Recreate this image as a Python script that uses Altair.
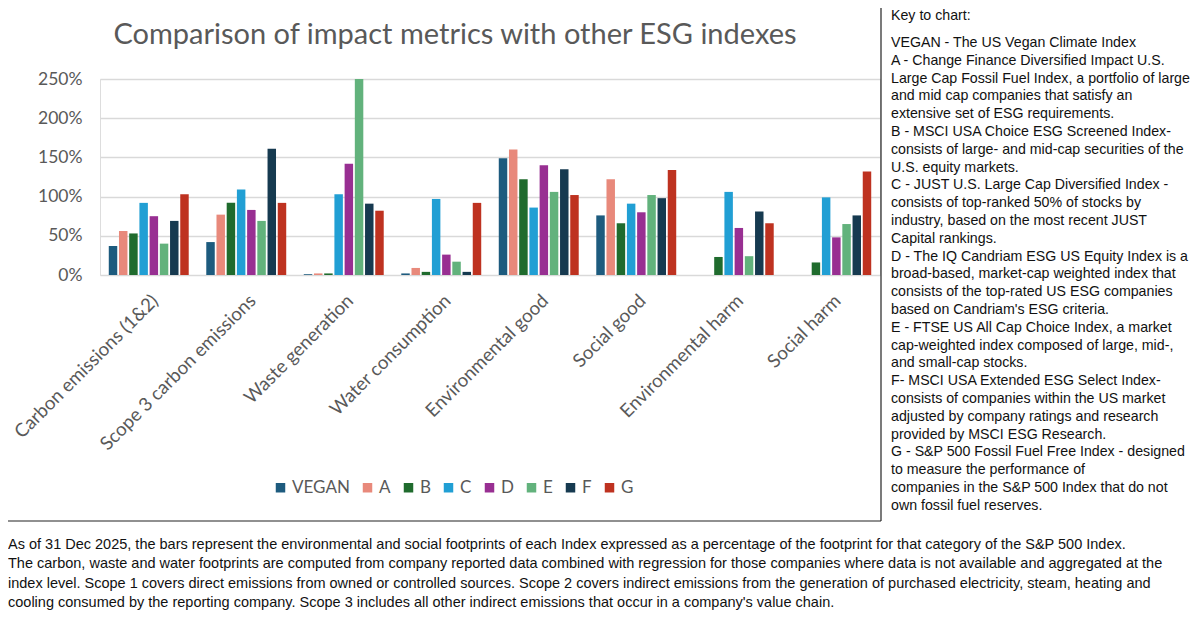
import altair as alt
import pandas as pd

categories = ["Carbon emissions (1&2)", "Scope 3 carbon emissions", "Waste generation",
              "Water consumption", "Environmental good", "Social good",
              "Environmental harm", "Social harm"]
series = ["VEGAN", "A", "B", "C", "D", "E", "F", "G"]
colors = ["#1d5b7e", "#e8897b", "#1f6b2d", "#219fd4", "#982f92", "#62b27c", "#163a50", "#be3220"]

VEGAN = [37, 42, 1, 2, 149, 76, None, None]
A = [56, 77, 2, 9, 160, 122, None, None]
B = [53, 92, 2, 4, 122, 66, 23, 16]
C = [92, 109, 103, 97, 86, 91, 106, 99]
D = [75, 83, 142, 26, 140, 80, 60, 48]
E = [40, 69, 250, 17, 106, 102, 24, 65]
F = [69, 161, 91, 4, 135, 98, 81, 76]
G = [103, 92, 82, 92, 102, 134, 66, 132]
y_ticks = [0, 50, 100, 150, 200, 250]

title_text = "Comparison of impact metrics with other ESG indexes"
key_heading = "Key to chart:"
key_lines = [
    "VEGAN - The US Vegan Climate Index",
    "A - Change Finance Diversified Impact U.S.",
    "Large Cap Fossil Fuel Index, a portfolio of large",
    "and mid cap companies that satisfy an",
    "extensive set of ESG requirements.",
    "B - MSCI USA Choice ESG Screened Index-",
    "consists of large- and mid-cap securities of the",
    "U.S. equity markets.",
    "C - JUST U.S. Large Cap Diversified Index -",
    "consists of top-ranked 50% of stocks by",
    "industry, based on the most recent JUST",
    "Capital rankings.",
    "D - The IQ Candriam ESG US Equity Index is a",
    "broad-based, market-cap weighted index that",
    "consists of the top-rated US ESG companies",
    "based on Candriam's ESG criteria.",
    "E - FTSE US All Cap Choice Index, a market",
    "cap-weighted index composed of large, mid-,",
    "and small-cap stocks.",
    "F- MSCI USA Extended ESG Select Index-",
    "consists of companies within the US market",
    "adjusted by company ratings and research",
    "provided by MSCI ESG Research.",
    "G - S&P 500 Fossil Fuel Free Index - designed",
    "to measure the performance of",
    "companies in the S&P 500 Index that do not",
    "own fossil fuel reserves.",
]
footer_lines = [
    "As of 31 Dec 2025, the bars represent the environmental and social footprints of each Index expressed as a percentage of the footprint for that category of the S&P 500 Index.",
    "The carbon, waste and water footprints are computed from company reported data combined with regression for those companies where data is not available and aggregated at the",
    "index level. Scope 1 covers direct emissions from owned or controlled sources. Scope 2 covers indirect emissions from the generation of purchased electricity, steam, heating and",
    "cooling consumed by the reporting company. Scope 3 includes all other indirect emissions that occur in a company's value chain.",
]

values = {"VEGAN": VEGAN, "A": A, "B": B, "C": C, "D": D, "E": E, "F": F, "G": G}
rows = []
for s in series:
    for cat, v in zip(categories, values[s]):
        if v is not None:
            rows.append({"category": cat, "series": s, "value": v})
df = pd.DataFrame(rows)

FONT = "Lato"
GREY = "#595959"

bars = alt.Chart(df).mark_bar().encode(
    x=alt.X("category:N", sort=categories,
            scale=alt.Scale(paddingInner=0.18, paddingOuter=0.09),
            axis=alt.Axis(title=None, labelAngle=-45, labelFontSize=18.7, labelFont=FONT,
                          labelColor=GREY, domain=False, ticks=False, labelPadding=16,
                          labelLimit=400)),
    xOffset=alt.XOffset("series:N", sort=series, scale=alt.Scale(paddingInner=0.17)),
    y=alt.Y("value:Q", scale=alt.Scale(domain=[0, 250]),
            axis=alt.Axis(title=None, values=y_ticks, labelExpr="datum.value + '%'",
                          labelFontSize=17.5, labelFont=FONT, labelColor=GREY,
                          domain=False, ticks=False, labelPadding=18,
                          gridColor="#d9d9d9", gridWidth=1.3)),
    color=alt.Color("series:N", sort=series,
                    scale=alt.Scale(domain=series, range=colors),
                    legend=alt.Legend(title=None, orient="none", legendX=172, legendY=400,
                                      direction="horizontal", columns=8,
                                      symbolType="square", symbolSize=90,
                                      symbolStrokeWidth=0, labelFontSize=17,
                                      labelFont=FONT, labelColor=GREY, labelOffset=3,
                                      columnPadding=9, padding=0)),
)

one = pd.DataFrame({"k": [0]})

title = alt.Chart(one).mark_text(
    text=title_text, font=FONT, fontSize=29, color=GREY, align="center", baseline="middle"
).encode(x=alt.value(355), y=alt.value(-44))

heading = alt.Chart(one).mark_text(
    text=key_heading, font="Liberation Sans", fontSize=14.2, color="#111111",
    align="left", baseline="middle"
).encode(x=alt.value(791), y=alt.value(-63))

key = alt.Chart(one).mark_text(
    text="\n".join(key_lines), lineBreak="\n", lineHeight=17.8, font="Liberation Sans",
    fontSize=14.2, color="#111111", align="left", baseline="top"
).encode(x=alt.value(791), y=alt.value(-43))

footer = alt.Chart(one).mark_text(
    text="\n".join(footer_lines), lineBreak="\n", lineHeight=19.3,
    font="Liberation Sans", fontSize=14.5, color="#111111",
    align="left", baseline="top"
).encode(x=alt.value(-92), y=alt.value(459))

vline = alt.Chart(one).mark_rule(color="#222222", strokeWidth=1.2).encode(
    x=alt.value(781), y=alt.value(-79), y2=alt.value(442))
hline = alt.Chart(one).mark_rule(color="#222222", strokeWidth=1.2).encode(
    x=alt.value(-92), x2=alt.value(781), y=alt.value(442))

chart = alt.layer(bars, title, heading, key, footer, vline, hline).properties(
    width=780, height=196,
    autosize=alt.AutoSizeParams(type="none"),
    padding={"left": 92, "top": 71, "right": 312, "bottom": 336},
).configure_view(stroke=None).configure(background="white")

chart.save("out.html", embed_options={"renderer": "svg", "actions": False})
